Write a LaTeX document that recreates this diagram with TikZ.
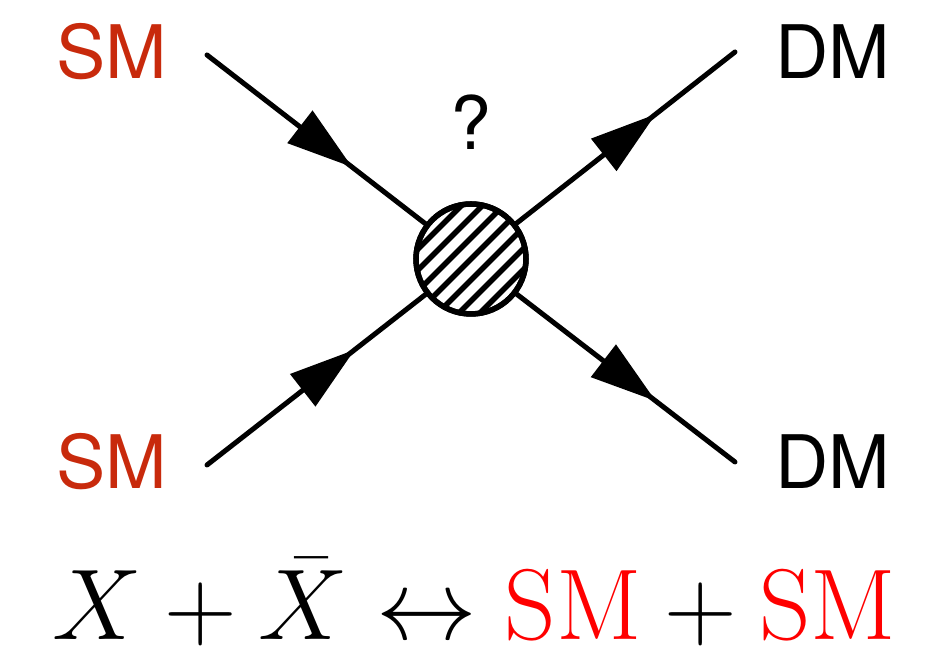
\documentclass[tikz,border=0pt]{standalone}
\usepackage{fontspec}
\usepackage{amsmath}
\usepackage{xcolor}
\usepackage{tikz}
\usetikzlibrary{positioning, arrows.meta, decorations.markings, calc}
\newfontfamily\helv{TeX Gyre Heros}
\definecolor{smred}{RGB}{200,42,12}

\begin{document}
\begin{tikzpicture}[
    line width=0.05cm,
    label/.style={
        font=\helv\fontsize{21}{24}\selectfont,
        inner sep=0pt
    },
    leg/.style={
        line cap=round,
        decoration={markings,
            mark=at position #1 with {\arrow{Triangle[length=6.6mm, width=4mm]}}},
        postaction={decorate}
    },
    blob/.style={
        circle,
        draw,
        fill=white,
        minimum size=1.1cm,
        inner sep=0pt,
        line width=0.055cm
    }
]
\useasboundingbox (0,0) rectangle (9.49,6.65);

% ends of the legs
\coordinate (in1) at (2.07,6.10);
\coordinate (in2) at (2.07,2.00);
\coordinate (out1) at (7.35,6.13);
\coordinate (out2) at (7.35,2.03);
\coordinate (vtx) at (4.71,4.06);

\node[label, text=smred] (sm1) at (1.12,6.13) {SM};
\node[label, text=smred] (sm2) at (1.12,2.03) {SM};
\node[label] (dm1) at (8.33,6.13) {DM};
\node[label] (dm2) at (8.33,2.03) {DM};
\node[label] (q) at (4.71,5.43) {?};

% legs
\draw[leg=0.55] (in1) -- (vtx);
\draw[leg=0.56] (in2) -- (vtx);
\draw[leg=0.70] (vtx) -- (out1);
\draw[leg=0.70] (vtx) -- (out2);

% hatched vertex
\node[blob] (core) at (vtx) {};
\begin{scope}
    \clip (vtx) circle (0.54cm);
    \foreach \s in {-0.63,-0.525,...,0.64}
        \draw[line width=0.055cm] ($(vtx)+(\s,-\s)+(-0.6,-0.6)$) -- ++(1.2,1.2);
\end{scope}
\draw[line width=0.055cm] (vtx) circle (0.55cm);

% reaction
\node[anchor=base, inner sep=0pt, font=\huge, scale=1.38] (eq) at (4.74,0.25)
    {$X+\bar{X}\leftrightarrow \textcolor{red}{\mathrm{SM}}+\textcolor{red}{\mathrm{SM}}$};

\end{tikzpicture}
\end{document}
